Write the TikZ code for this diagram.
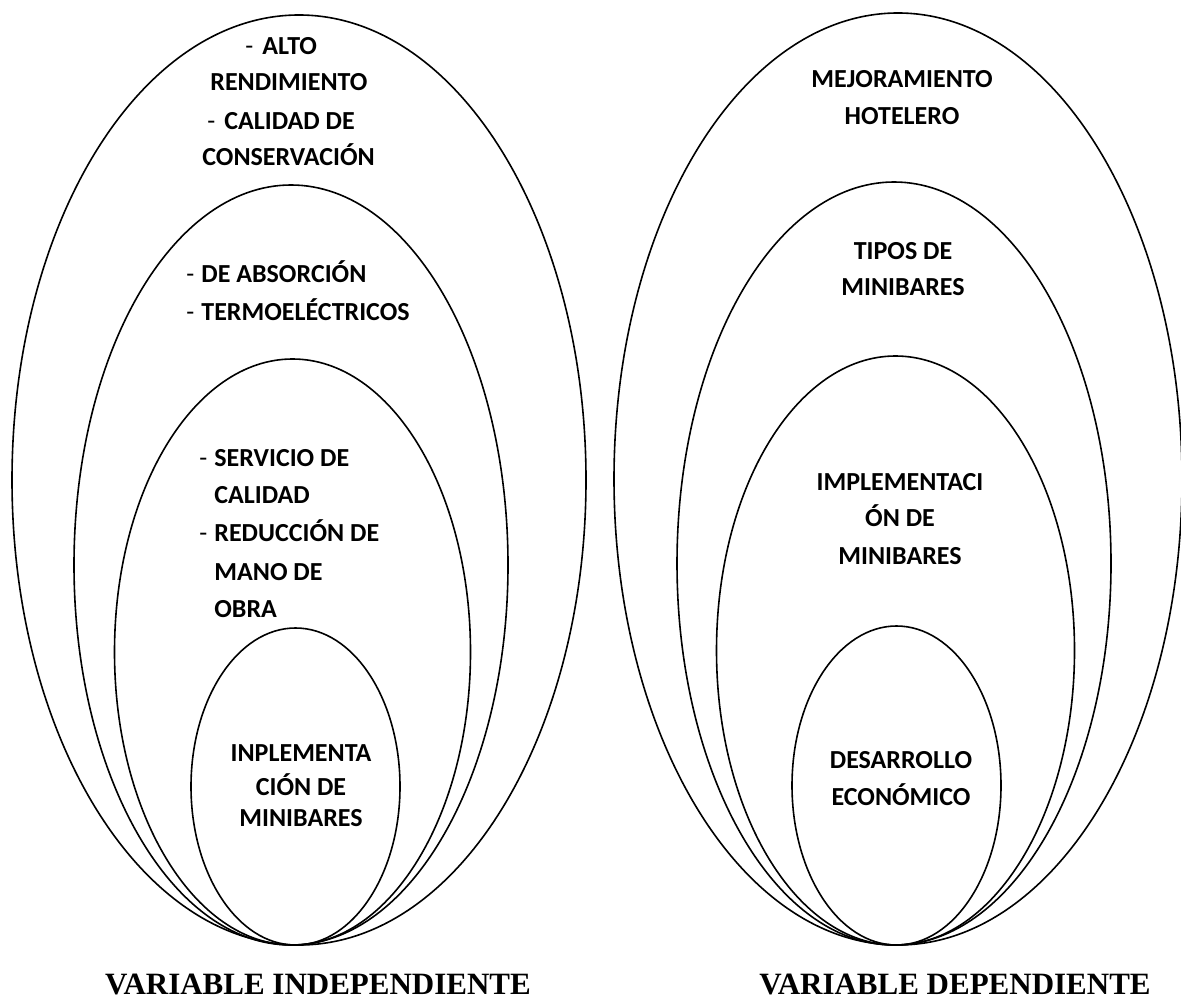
\documentclass[tikz,border=0pt]{standalone}
\usepackage{fontspec}
\setmainfont{Carlito}
\newfontfamily\labelfont{Liberation Serif}
\usetikzlibrary{positioning}

\begin{document}
\begin{tikzpicture}[x=0.5pt,y=-0.5pt,
    ring/.style={draw=black, line width=0.8pt},
    item/.style={anchor=base west, inner sep=0pt, font=\fontsize{13}{15}\selectfont\bfseries},
    mid/.style={anchor=base, inner sep=0pt, font=\fontsize{13}{15}\selectfont\bfseries},
    bullet/.style={anchor=base west, inner sep=0pt, font=\fontsize{13}{15}\selectfont},
    caption/.style={anchor=base, inner sep=0pt, font=\fontsize{15.5}{18}\selectfont\labelfont\bfseries}]
\useasboundingbox (0,0) rectangle (1181,999);

% --- independent variable (left) ---
\draw[ring] (299,480) ellipse (287 and 465);
\draw[ring] (291,565) ellipse (217 and 380);
\draw[ring] (292.5,652) ellipse (178 and 293);
\draw[ring] (295.5,786.5) ellipse (104.5 and 158.5);

\node[bullet] (d1) at (245,55) {-};
\node[item] (alto) at (262,55) {ALTO};
\node[item] (rend) at (210,91) {RENDIMIENTO};
\node[bullet] (d2) at (207,130) {-};
\node[item] (cal) at (224,130) {CALIDAD DE};
\node[item] (cons) at (202,166) {CONSERVACIÓN};

\node[bullet] (d3) at (186,283) {-};
\node[item] (abs) at (201,283) {DE ABSORCIÓN};
\node[bullet] (d4) at (186,321) {-};
\node[item] (termo) at (201,321) {TERMOELÉCTRICOS};

\node[bullet] (d5) at (199,466) {-};
\node[item] (serv) at (214,466) {SERVICIO DE};
\node[item] (calid) at (214,503) {CALIDAD};
\node[bullet] (d6) at (199,541) {-};
\node[item] (red) at (214,541) {REDUCCIÓN DE};
\node[item] (mano) at (214,580) {MANO DE};
\node[item] (obra) at (214,617) {OBRA};

\node[mid] (inp1) at (301,761) {INPLEMENTA};
\node[mid] (inp2) at (301,795) {CIÓN DE};
\node[mid] (inp3) at (301,826) {MINIBARES};

\node[caption] (vi) at (318,994) {VARIABLE INDEPENDIENTE};

% --- dependent variable (right) ---
\draw[ring] (898,479) ellipse (284 and 466);
\draw[ring] (894,563.5) ellipse (217 and 381.5);
\draw[ring] (895.5,650.5) ellipse (179 and 294.5);
\draw[ring] (896.5,785.5) ellipse (104.5 and 159.5);

\node[mid] (mej) at (902,88) {MEJORAMIENTO};
\node[mid] (hot) at (902,125) {HOTELERO};
\node[mid] (tip) at (903,260) {TIPOS DE};
\node[mid] (mini) at (903,296) {MINIBARES};
\node[mid] (imp1) at (900,490) {IMPLEMENTACI};
\node[mid] (imp2) at (900,526) {ÓN DE};
\node[mid] (imp3) at (900,564) {MINIBARES};
\node[mid] (des) at (901,768) {DESARROLLO};
\node[mid] (eco) at (901,805) {ECONÓMICO};

\node[caption] (vd) at (955,994) {VARIABLE DEPENDIENTE};
\end{tikzpicture}
\end{document}
